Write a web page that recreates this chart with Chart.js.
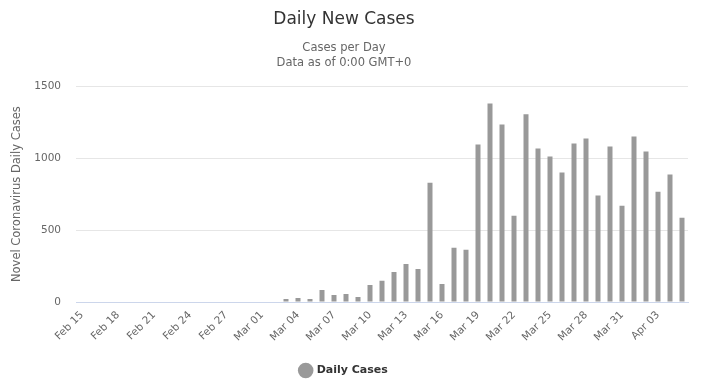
<!DOCTYPE html>
<html>
<head>
<meta charset="utf-8">
<title>Daily New Cases</title>
<script src="https://cdn.jsdelivr.net/npm/chart.js@4/dist/chart.umd.min.js"></script>
<style>
  html, body { margin: 0; padding: 0; background: #fff; }
  #wrap { width: 702px; height: 392px; position: relative; }
</style>
</head>
<body>
<div id="wrap"><canvas id="daily-cases"></canvas></div>
<script>
// one category per day, Feb 15 - Apr 05
const days = [
  'Feb 15', 'Feb 16', 'Feb 17', 'Feb 18', 'Feb 19', 'Feb 20', 'Feb 21', 'Feb 22',
  'Feb 23', 'Feb 24', 'Feb 25', 'Feb 26', 'Feb 27', 'Feb 28', 'Feb 29',
  'Mar 01', 'Mar 02', 'Mar 03', 'Mar 04', 'Mar 05', 'Mar 06', 'Mar 07', 'Mar 08',
  'Mar 09', 'Mar 10', 'Mar 11', 'Mar 12', 'Mar 13', 'Mar 14', 'Mar 15', 'Mar 16',
  'Mar 17', 'Mar 18', 'Mar 19', 'Mar 20', 'Mar 21', 'Mar 22', 'Mar 23', 'Mar 24',
  'Mar 25', 'Mar 26', 'Mar 27', 'Mar 28', 'Mar 29', 'Mar 30', 'Mar 31',
  'Apr 01', 'Apr 02', 'Apr 03', 'Apr 04', 'Apr 05'
];

const dailyCases = [
  0, 0, 0, 0, 0, 0, 0, 0,
  0, 0, 0, 0, 0, 0, 0,
  0, 0, 21, 27, 21, 84, 49, 56,
  35, 119, 147, 209, 265, 230, 830, 126,
  377, 363, 1095, 1381, 1235, 600, 1305, 1067,
  1012, 900, 1102, 1137, 740, 1081, 670,
  1151, 1047, 767, 886, 586
];

const yTicks = [0, 500, 1000, 1500];

const font = "'DejaVu Sans', sans-serif";

new Chart(document.getElementById('daily-cases'), {
  type: 'bar',
  data: {
    labels: days,
    datasets: [{
      label: 'Daily Cases',
      data: dailyCases,
      backgroundColor: '#999999',
      borderWidth: 0,
      inflateAmount: 0,
      barThickness: 5
    }]
  },
  options: {
    responsive: true,
    maintainAspectRatio: false,
    animation: false,
    layout: { padding: { left: 0, right: 14, top: 0, bottom: 6 } },
    plugins: {
      title: {
        display: true,
        text: 'Daily New Cases',
        color: '#333333',
        font: { family: font, size: 17, weight: 'normal' },
        padding: { top: 9, bottom: 11 }
      },
      subtitle: {
        display: true,
        text: ['Cases per Day', 'Data as of 0:00 GMT+0'],
        color: '#666666',
        font: { family: font, size: 11.5, lineHeight: 1.3 },
        padding: { top: 0, bottom: 16 }
      },
      legend: {
        position: 'bottom',
        labels: {
          usePointStyle: true,
          pointStyle: 'circle',
          boxWidth: 12,
          boxHeight: 12,
          color: '#333333',
          font: { family: font, size: 11, weight: 'bold' },
          padding: 10
        }
      },
      tooltip: { enabled: false }
    },
    scales: {
      x: {
        grid: { display: false, drawTicks: false },
        border: { color: '#ccd6eb' },
        ticks: {
          autoSkip: false,
          minRotation: 45,
          maxRotation: 45,
          padding: 7,
          color: '#666666',
          font: { family: font, size: 10.5 },
          callback: (v, i) => (i % 3 === 0 ? days[i] : '')
        },
        afterFit: s => { s.height = 53; }
      },
      y: {
        min: 0,
        max: 1500,
        afterBuildTicks: s => { s.ticks = yTicks.map(v => ({ value: v })); },
        grid: { color: '#e6e6e6', drawTicks: false },
        border: { display: false },
        ticks: {
          padding: 15,
          color: '#666666',
          font: { family: font, size: 10.5 },
          callback: v => String(v)
        },
        title: {
          display: true,
          text: 'Novel Coronavirus Daily Cases',
          color: '#666666',
          font: { family: font, size: 11.5 },
          padding: { top: 10, bottom: 0 }
        },
        afterFit: s => { s.width = 76; }
      }
    }
  }
});
</script>
</body>
</html>
